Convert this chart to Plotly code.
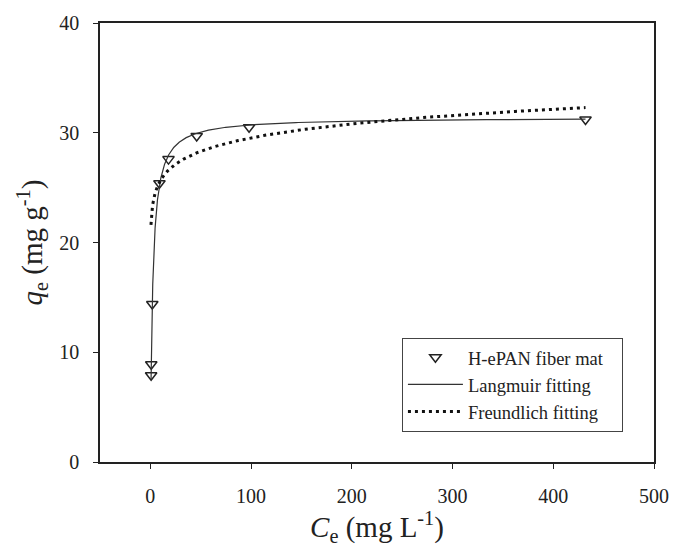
import numpy as np
import plotly.graph_objects as go

# Equilibrium adsorption data (H-ePAN fiber mat)
ce_data = [0.75, 0.88, 1.9, 9.0, 18.0, 46.0, 98.0, 432.0]
qe_data = [7.9, 8.9, 14.4, 25.4, 27.6, 29.7, 30.5, 31.2]

# Isotherm model parameters
langmuir_qm = 31.4      # mg/g
langmuir_k = 0.45       # L/mg
freundlich_kf = 22.3
freundlich_inv_n = 0.061

x_ticks = [0, 100, 200, 300, 400, 500]
y_ticks = [0, 10, 20, 30, 40]

ce_lang = np.geomspace(0.7, 432, 400)
qe_lang = langmuir_qm * langmuir_k * ce_lang / (1 + langmuir_k * ce_lang)

ce_freu = np.concatenate([np.linspace(0.6, 10, 120), np.geomspace(10, 432, 300)[1:]])
qe_freu = freundlich_kf * ce_freu ** freundlich_inv_n

FONT = "Liberation Serif, Times New Roman, serif"
INK = "#222222"
PAD = "&nbsp;&nbsp;&nbsp;"  # extra right padding inside the legend box

fig = go.Figure()
fig.add_trace(go.Scatter(
    x=ce_data, y=qe_data, mode="markers", name="H-ePAN fiber mat" + PAD,
    marker=dict(symbol="triangle-down-open", size=10, color=INK,
                line=dict(width=1.5, color=INK)),
))
fig.add_trace(go.Scatter(
    x=ce_lang, y=qe_lang, mode="lines", name="Langmuir fitting",
    line=dict(color="#333333", width=1.2),
))
fig.add_trace(go.Scatter(
    x=ce_freu, y=qe_freu, mode="lines", name="Freundlich fitting",
    line=dict(color="#111111", width=3, dash="3px,4px"),
))

fig.update_layout(
    width=681, height=550,
    margin=dict(l=100, r=18, t=21, b=88),
    paper_bgcolor="white", plot_bgcolor="white",
    font=dict(family=FONT, color=INK, size=20),
    showlegend=True,
    legend=dict(
        x=0.545, y=0.283, xanchor="left", yanchor="top",
        bgcolor="white", bordercolor="#444444", borderwidth=1,
        font=dict(family=FONT, size=18.5, color=INK),
        tracegroupgap=0, itemwidth=55,
    ),
    xaxis=dict(
        range=[-50, 500], tickvals=x_ticks, ticks="outside", ticklen=5,
        tickwidth=1.3, tickcolor=INK, showline=True, linecolor=INK, linewidth=1.5,
        mirror=True, showgrid=False, zeroline=False, ticklabelstandoff=10,
        title=dict(text="<i>C</i><sub>e</sub> (mg L<sup>-1</sup>)",
                   font=dict(family=FONT, size=29), standoff=2),
    ),
    yaxis=dict(
        range=[0, 40], tickvals=y_ticks, ticks="outside", ticklen=5,
        tickwidth=1.3, tickcolor=INK, showline=True, linecolor=INK, linewidth=1.5,
        mirror=True, showgrid=False, zeroline=False, ticklabelstandoff=10,
        title=dict(text="<i>q</i><sub>e</sub> (mg g<sup>-1</sup>)",
                   font=dict(family=FONT, size=29), standoff=8),
    ),
)

fig.write_html("out.html")
